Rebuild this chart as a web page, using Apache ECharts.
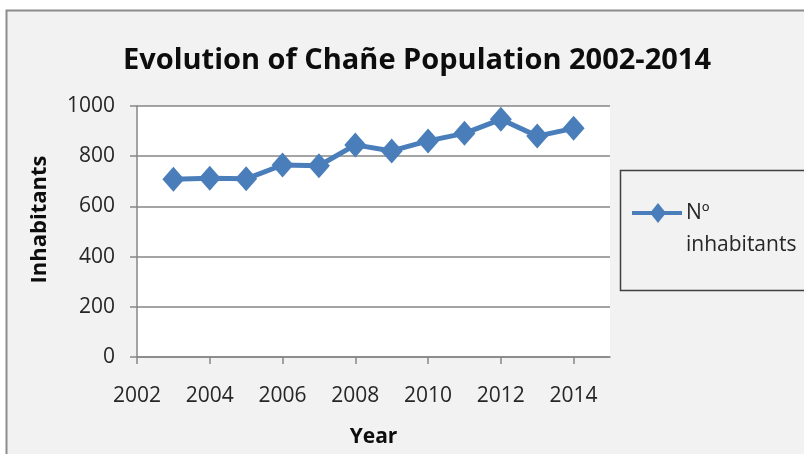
<!DOCTYPE html>
<html>
<head>
<meta charset="utf-8">
<script src="https://cdn.jsdelivr.net/npm/echarts@6/dist/echarts.min.js"></script>
<style>
  html, body { margin: 0; padding: 0; background: #ffffff; }
  #chart { width: 804px; height: 454px; }
</style>
</head>
<body>
<div id="chart"></div>
<script>
// Chañe population by year
const years = [2003, 2004, 2005, 2006, 2007, 2008, 2009, 2010, 2011, 2012, 2013, 2014];
const inhabitants = [708, 712, 710, 765, 762, 845, 821, 861, 891, 947, 880, 911];
const yearTicks = [2002, 2004, 2006, 2008, 2010, 2012, 2014];

const FONT = '"Open Sans"';
const BLUE = '#4a7ebb';
const chart = echarts.init(document.getElementById('chart'), null, { renderer: 'canvas' });

chart.setOption({
  backgroundColor: '#ffffff',
  animation: false,
  graphic: [
    // chart frame
    {
      type: 'rect',
      z: -10,
      shape: { x: 6.5, y: 10.5, width: 820, height: 460 },
      style: { fill: '#f2f2f2', stroke: '#8c8c8c', lineWidth: 2 }
    },
    // legend box
    {
      type: 'rect',
      z: -5,
      shape: { x: 620.5, y: 170.5, width: 200, height: 120 },
      style: { fill: '#f2f2f2', stroke: '#404040', lineWidth: 1.5 }
    },
    {
      type: 'text',
      left: 686, top: 197,
      style: { text: 'Nº\ninhabitants', font: '21px ' + FONT, fill: '#262626', lineHeight: 32 }
    },
    {
      type: 'line',
      shape: { x1: 632, y1: 213, x2: 682, y2: 213 },
      style: { stroke: BLUE, lineWidth: 4 }
    },
    {
      type: 'polygon',
      shape: { points: [[658, 203], [666, 213], [658, 223], [650, 213]] },
      style: { fill: BLUE }
    }
  ],
  title: {
    text: 'Evolution of Chañe Population 2002-2014',
    left: 412, top: 41, textAlign: 'center',
    textStyle: { fontFamily: FONT, fontWeight: 'bold', fontSize: 29, color: '#0d0d0d' }
  },
  grid: { left: 137, top: 106, width: 473, height: 251, backgroundColor: '#ffffff', show: true, borderWidth: 0 },
  xAxis: {
    type: 'value',
    min: 2002, max: 2015, interval: 2,
    name: 'Year', nameLocation: 'middle', nameGap: 70,
    nameTextStyle: { fontFamily: FONT, fontWeight: 'bold', fontSize: 21, color: '#0d0d0d' },
    axisLine: { show: true, lineStyle: { color: '#868686', width: 1.5 } },
    axisTick: { show: true, length: 7, inside: false, customValues: yearTicks, lineStyle: { color: '#868686', width: 1.5 } },
    axisLabel: { customValues: yearTicks, margin: 29, fontFamily: FONT, fontSize: 21, color: '#262626', formatter: v => String(v) },
    splitLine: { show: false }
  },
  yAxis: {
    type: 'value',
    min: 0, max: 1000, interval: 200,
    name: 'Inhabitants', nameLocation: 'middle', nameGap: 86, nameRotate: 90,
    nameTextStyle: { fontFamily: FONT, fontWeight: 'bold', fontSize: 22, color: '#0d0d0d', padding: [0, 0, 0, 24] },
    axisLine: { show: true, lineStyle: { color: '#868686', width: 1.5 } },
    axisTick: { show: true, length: 7, lineStyle: { color: '#868686', width: 1.5 } },
    axisLabel: { margin: 22, fontFamily: FONT, fontSize: 21, color: '#262626', formatter: v => String(v) },
    splitLine: { show: true, lineStyle: { color: '#868686', width: 1.5 } }
  },
  series: [{
    name: 'Nº inhabitants',
    type: 'line',
    data: years.map((y, i) => [y, inhabitants[i]]),
    lineStyle: { color: BLUE, width: 5 },
    itemStyle: { color: BLUE },
    symbol: 'diamond',
    symbolSize: [22, 25],
    showSymbol: true
  }]
});
</script>
</body>
</html>
